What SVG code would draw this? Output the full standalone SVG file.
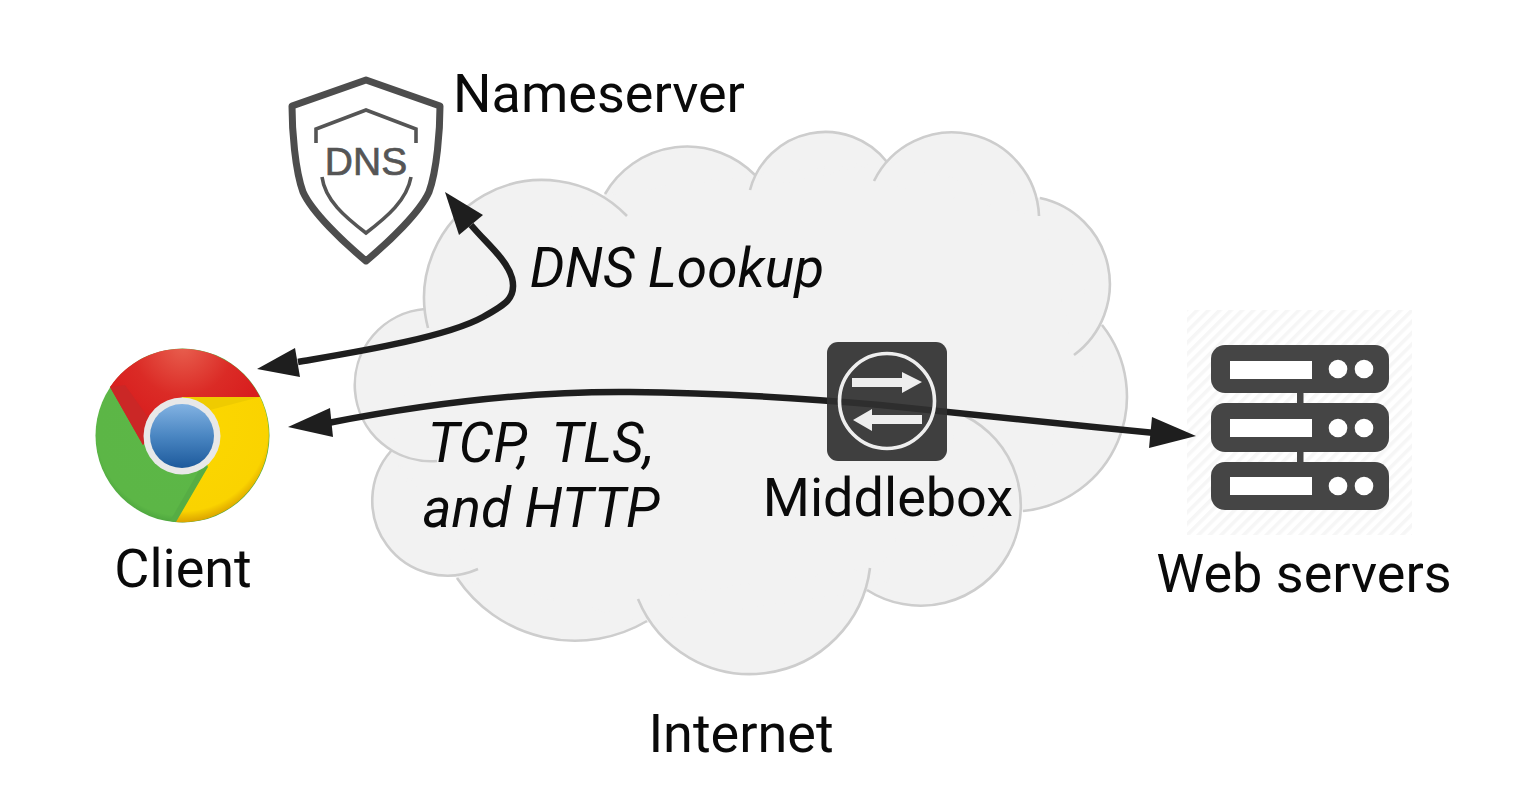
<svg xmlns="http://www.w3.org/2000/svg" width="1537" height="795" viewBox="0 0 1537 795">
<style>
text{font-family:Roboto,"Liberation Sans",sans-serif;font-size:54px;fill:#0a0a0a}
.it{font-style:italic;font-size:55px}
.conn{fill:none;stroke:#1e1e1e;stroke-width:6.5;stroke-linecap:butt}
.head{fill:#1e1e1e}
.cl{fill:none;stroke:#cdcdcd;stroke-width:2.6}
.rack{fill:#454545}
.w{fill:#fff}
</style>
<defs>
<pattern id="hatch" width="8" height="8" patternUnits="userSpaceOnUse" patternTransform="rotate(45)">
<rect width="8" height="8" fill="#fff"/><rect width="3.5" height="8" fill="#f6f6f6"/>
</pattern>
<radialGradient id="red" gradientUnits="userSpaceOnUse" cx="183" cy="345" r="85"><stop offset="0" stop-color="#e8604f"/><stop offset="0.6" stop-color="#db2b26"/><stop offset="1" stop-color="#d81e1e"/></radialGradient>
<radialGradient id="yel" gradientUnits="userSpaceOnUse" cx="182" cy="425" r="98"><stop offset="0" stop-color="#fcd800"/><stop offset="0.88" stop-color="#fad300"/><stop offset="1" stop-color="#d9a000"/></radialGradient>
<radialGradient id="grn" gradientUnits="userSpaceOnUse" cx="182" cy="430" r="92"><stop offset="0" stop-color="#5cb747"/><stop offset="0.93" stop-color="#5cb646"/><stop offset="1" stop-color="#4fa83f"/></radialGradient>
<linearGradient id="blu" x1="0" y1="0" x2="0" y2="1"><stop offset="0" stop-color="#82b2e2"/><stop offset="0.5" stop-color="#4a86c2"/><stop offset="1" stop-color="#1d5a9c"/></linearGradient>
</defs>
<rect width="1537" height="795" fill="#fff"/>

<g id="internet">
<path fill="#f2f2f2" stroke="#f2f2f2" stroke-width="1.5" d="M425,311 L606,195 L755,174 L885,162 L1040,199 L1101,326 L1023,509 L866,592 L648,622 L459,577 L392,452 Z
M428,328 A118,118 0 0 1 627,216 Z
M605,194 A95,95 0 0 1 755,175 Z
M750,190 A78,78 0 0 1 887,162 Z
M874,181 A87,87 0 0 1 1039,216 Z
M1040,198 A88,88 0 0 1 1074,355 Z
M1102,325 A115,115 0 0 1 1023,511 Z
M965,416 A100,100 0 1 1 867,590 Z
M870,568 A121,121 0 0 1 638,599 Z
M647,621 A142,142 0 0 1 457,578 Z
M478,569 A75,75 0 0 1 391,451 Z
M437,461 A76,76 0 1 1 425,309 Z"/>
<path class="cl" d="M428,328 A118,118 0 0 1 627,216
M605,194 A95,95 0 0 1 755,175
M750,190 A78,78 0 0 1 887,162
M874,181 A87,87 0 0 1 1039,216
M1040,198 A88,88 0 0 1 1074,355
M1102,325 A115,115 0 0 1 1023,511
M965,416 A100,100 0 1 1 867,590
M870,568 A121,121 0 0 1 638,599
M647,621 A142,142 0 0 1 457,578
M478,569 A75,75 0 0 1 391,451
M437,461 A76,76 0 1 1 425,309"/>
<text x="741" y="752" text-anchor="middle">Internet</text>
</g>

<g id="web-servers">
<rect x="1187" y="310" width="225" height="225" fill="url(#hatch)"/>
<rect class="rack" x="1297" y="390" width="6.5" height="76"/>
<rect class="rack" x="1211" y="345" width="178" height="48" rx="14"/>
<rect class="rack" x="1211" y="403" width="178" height="49" rx="14"/>
<rect class="rack" x="1211" y="462" width="178" height="48" rx="14"/>
<rect class="w" x="1230" y="361" width="82" height="18"/>
<rect class="w" x="1230" y="419" width="82" height="18"/>
<rect class="w" x="1230" y="477" width="82" height="18"/>
<circle class="w" cx="1338" cy="369" r="9.3"/><circle class="w" cx="1364" cy="369" r="9.3"/>
<circle class="w" cx="1338" cy="428" r="9.3"/><circle class="w" cx="1364" cy="428" r="9.3"/>
<circle class="w" cx="1338" cy="486" r="9.3"/><circle class="w" cx="1364" cy="486" r="9.3"/>
<text x="1304" y="592" text-anchor="middle">Web servers</text>
</g>

<g id="nameserver">
<path fill="none" stroke="#4d4d4d" stroke-width="7" stroke-linejoin="round" d="M366,80 L292,106 C292,130 295,170 303,192 C312,212 342,241 366,261 C390,241 420,212 429,192 C437,170 440,130 440,106 Z"/>
<path fill="none" stroke="#555" stroke-width="3.6" d="M316,143 V129 L366,110 L416,129 V143 M322,177 C325,200 345,217 366,233 C387,217 407,200 411,177"/>
<text x="366" y="175" text-anchor="middle" stroke="#555" stroke-width="0.7" style="font-family:'Liberation Sans',sans-serif;font-size:39px;fill:#555">DNS</text>
<text x="453" y="112">Nameserver</text>
</g>

<g id="client">
<circle cx="182.5" cy="435.5" r="87" fill="url(#grn)"/>
<path fill="#56ad44" d="M208,467 L176,522 L170,521 L201,467 Z"/>
<path fill="url(#yel)" d="M182,397 H260 A87,87 0 0 1 176,522 L208,467 Z"/>
<path fill="#efcb00" d="M182,397 H260 L210,410 Z"/>
<path fill="url(#red)" d="M110,387 A87,87 0 0 1 260,397 H182 L143,445 Z"/>
<path fill="#cb2726" d="M110,387 L143,445 L150,420 L125,385 Z"/>
<circle cx="182" cy="436" r="38.5" fill="#e8e8e8"/>
<circle cx="182" cy="436" r="32" fill="url(#blu)"/>
<text x="183" y="587" text-anchor="middle">Client</text>
</g>

<g id="connectors">
<path class="conn" d="M298,362 C350,353 445,338 483,317 C505,305 517,298 512,278 C507,260 488,245 471,225"/>
<polygon class="head" points="445,192 483,215 459,235"/>
<polygon class="head" points="257,369 295,348 300,377"/>
<path class="conn" d="M328,423 C430,403 530,391 630,392 C720,393 800,398 880,405 C960,413 1060,424 1155,433"/>
<polygon class="head" points="288,427 330,408 333,437"/>
<polygon class="head" points="1196,436 1152,417 1149,448"/>
</g>

<g id="middlebox">
<rect x="827" y="342" width="120" height="119" rx="11" fill="#303030" fill-opacity="0.92"/>
<circle cx="887" cy="401" r="47.5" fill="none" stroke="#eee" stroke-width="3.6"/>
<polygon fill="#eee" points="852,378 902,378 902,372 922,382 902,393 902,387 852,387"/>
<polygon fill="#eee" points="922,415 872,415 872,409 853,420 872,431 872,424 922,424"/>
<text x="888" y="516" text-anchor="middle">Middlebox</text>
</g>

<g id="labels">
<text class="it" x="677" y="287" text-anchor="middle">DNS Lookup</text>
<text class="it" x="541" y="462" text-anchor="middle" style="word-spacing:10px">TCP, TLS,</text>
<text class="it" x="541" y="527" text-anchor="middle">and HTTP</text>
</g>
</svg>
